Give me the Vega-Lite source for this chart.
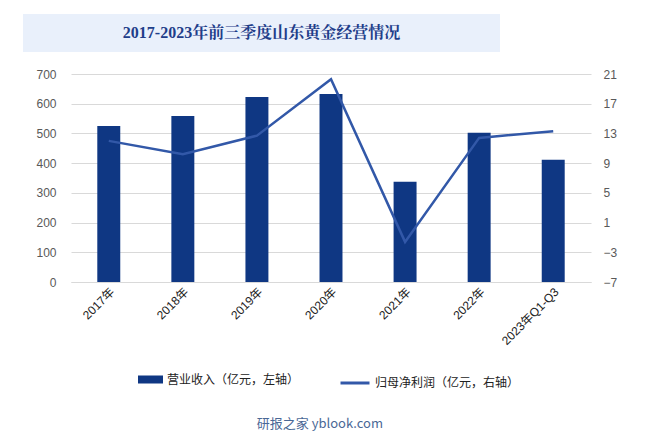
{
  "$schema": "https://vega.github.io/schema/vega-lite/v6.json",
  "background": "white",
  "padding": {"left": 23, "top": 14, "right": 10, "bottom": 10},
  "spacing": 16,
  "title": {"text": "研报之家 yblook.com", "orient": "bottom", "anchor": "middle", "fontSize": 13, "fontWeight": "normal", "color": "#4a6896", "font": "Noto Sans CJK SC", "offset": 29},
  "config": {
    "view": {"stroke": null},
    "font": "Liberation Sans",
    "axis": {"labelFont": "Liberation Sans, Noto Sans CJK SC", "labelFontSize": 12, "labelColor": "#595959", "gridColor": "#d9d9d9", "ticks": false, "domain": false},
    "legend": {"labelFont": "Noto Sans CJK SC", "labelFontSize": 12, "labelColor": "#222222"}
  },
  "datasets": {
    "gold": [
      {"year": "2017年", "revenue": 525, "profit": 12.0},
      {"year": "2018年", "revenue": 559, "profit": 10.2},
      {"year": "2019年", "revenue": 623, "profit": 12.7},
      {"year": "2020年", "revenue": 633, "profit": 20.3},
      {"year": "2021年", "revenue": 337, "profit": -1.6},
      {"year": "2022年", "revenue": 502, "profit": 12.4},
      {"year": "2023年Q1-Q3", "revenue": 411, "profit": 13.3}
    ]
  },
  "vconcat": [
    {
      "width": 477,
      "height": 38,
      "view": {"fill": "#e9f0fb", "stroke": null},
      "data": {"values": [{"t": "2017-2023年前三季度山东黄金经营情况"}]},
      "mark": {"type": "text", "font": "Liberation Serif, Noto Serif CJK SC, Noto Sans CJK SC", "fontSize": 16, "fontWeight": "bold", "color": "#1f3e8a"},
      "encoding": {"text": {"field": "t"}}
    },
    {
      "spacing": 15,
      "hconcat": [
        {
          "width": 0,
          "height": 208,
          "data": {"name": "gold"},
          "mark": {"type": "text"},
          "encoding": {
            "y": {"field": "revenue", "type": "quantitative", "title": null,
                  "scale": {"domain": [0, 700], "nice": false},
                  "axis": {"orient": "right", "values": [0, 100, 200, 300, 400, 500, 600, 700], "labelAlign": "right", "labelPadding": 13, "grid": false}}
          }
        },
        {
          "width": 520,
          "height": 208,
          "data": {"name": "gold"},
          "encoding": {
            "x": {"field": "year", "type": "nominal", "sort": null, "title": null,
                  "scale": {"paddingInner": 0.69, "paddingOuter": 0.355},
                  "axis": {"labelAngle": -45, "domain": true, "domainColor": "#d9d9d9", "labelColor": "#222222", "labelPadding": 4}}
          },
          "layer": [
            {
              "mark": {"type": "bar"},
              "encoding": {
                "y": {"field": "revenue", "type": "quantitative", "title": null,
                      "scale": {"domain": [0, 700], "nice": false},
                      "axis": {"orient": "left", "values": [0, 100, 200, 300, 400, 500, 600, 700], "labels": false}},
                "fill": {"datum": "营业收入（亿元，左轴）", "type": "nominal",
                         "scale": {"range": ["#0f3783"]},
                         "legend": {"title": null, "orient": "none", "legendX": 115, "legendY": 353, "symbolType": "M-1,-0.32H1V0.32H-1Z", "symbolSize": 625, "symbolStrokeWidth": 0}}
              }
            },
            {
              "mark": {"type": "line", "strokeWidth": 2.5},
              "encoding": {
                "y": {"field": "profit", "type": "quantitative", "title": null,
                      "scale": {"domain": [-7, 21], "nice": false, "zero": false},
                      "axis": {"orient": "right", "values": [-7, -3, 1, 5, 9, 13, 17, 21], "grid": false, "labelPadding": 12}},
                "stroke": {"datum": "归母净利润（亿元，右轴）", "type": "nominal",
                           "scale": {"range": ["#3258a8"]},
                           "legend": {"title": null, "orient": "none", "legendX": 316, "legendY": 353, "symbolType": "stroke", "symbolSize": 841, "symbolStrokeWidth": 3}}
              }
            }
          ],
          "resolve": {"scale": {"y": "independent"}}
        }
      ],
      "resolve": {"scale": {"y": "independent"}}
    }
  ]
}
